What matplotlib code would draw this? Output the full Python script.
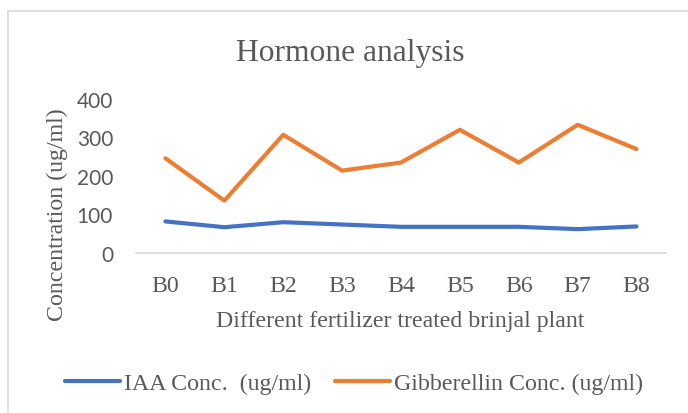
import matplotlib
matplotlib.use("Agg")
import matplotlib.pyplot as plt
from matplotlib.patches import Rectangle

categories = ["B0", "B1", "B2", "B3", "B4", "B5", "B6", "B7", "B8"]
iaa = [82, 67, 80, 74, 68, 68, 68, 62, 69]
gibberellin = [246, 136, 307, 214, 235, 320, 235, 333, 270]
yticks = [0, 100, 200, 300, 400]

W, H = 688, 414
fig = plt.figure(figsize=(W / 100, H / 100), dpi=100)
fig.patch.set_facecolor("white")

def fx(px):
    return px / W

def fy(py):
    return 1 - py / H

# chart border (extends beyond the right/bottom edges)
fig.patches.append(Rectangle((fx(7.5), -0.1), 1.2, fy(12) + 0.1, transform=fig.transFigure,
                             fill=False, edgecolor="#d9d9d9", linewidth=1.2))

ax = fig.add_axes([fx(136), fy(254), (666 - 136) / W, (254 - 100) / H])
x = list(range(len(categories)))
ax.plot(x, iaa, color="#4472c4", linewidth=3.0, solid_capstyle="round", label="IAA Conc.  (ug/ml)")
ax.plot(x, gibberellin, color="#ed7d31", linewidth=3.0, solid_capstyle="round", label="Gibberellin Conc. (ug/ml)")
ax.set_xlim(-0.5, len(categories) - 0.5)
ax.set_ylim(0, 400)
ax.set_yticks(yticks)
ax.set_yticklabels([str(v) for v in yticks], fontfamily="Lato", fontsize=15, color="#595959")
ax.set_xticks(x)
ax.set_xticklabels(categories, fontfamily="Liberation Serif", fontsize=17.2, color="#595959")
ax.tick_params(axis="x", length=0, pad=15.5)
ax.tick_params(axis="y", length=0, pad=16.5)
for s in ["top", "right", "left"]:
    ax.spines[s].set_visible(False)
ax.spines["bottom"].set_color("#d9d9d9")
ax.spines["bottom"].set_linewidth(1.2)

fig.text(fx(350), fy(61), "Hormone analysis", ha="center", va="baseline",
         fontfamily="Liberation Serif", fontsize=22.7, color="#595959")
fig.text(fx(57), fy(215), "Concentration (ug/ml)", ha="center", va="center", rotation=90,
         fontfamily="Liberation Serif", fontsize=17.2, color="#595959")
fig.text(fx(400), fy(327), "Different fertilizer treated brinjal plant", ha="center", va="baseline",
         fontfamily="Liberation Serif", fontsize=17.2, color="#595959")

leg = fig.legend(loc="center", bbox_to_anchor=(fx(354), fy(384)), ncol=2, frameon=False,
                 prop={"family": "Liberation Serif", "size": 17.2}, handlelength=2.3,
                 handletextpad=0.17, columnspacing=1.0, borderpad=0, borderaxespad=0)
for t in leg.get_texts():
    t.set_color("#595959")

fig.savefig("out.png", dpi=100)
